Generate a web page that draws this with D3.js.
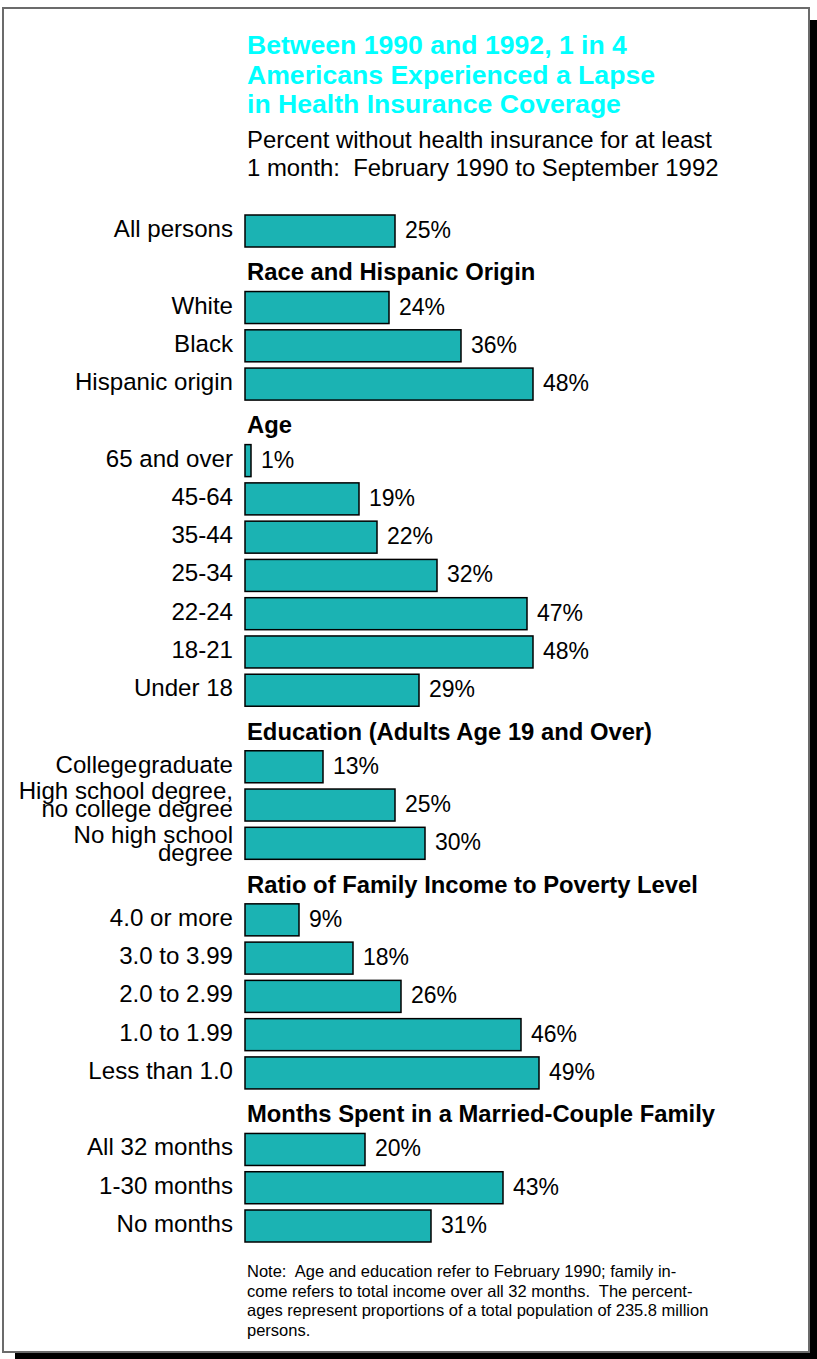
<!DOCTYPE html>
<html>
<head>
<meta charset="utf-8">
<script src="https://cdn.jsdelivr.net/npm/d3@7"></script>
<style>
  body { margin: 0; background: #fff; }
  svg { display: block; font-family: "Liberation Sans", Arial, Helvetica, sans-serif; }
  text { white-space: pre; }
</style>
</head>
<body>
<svg id="chart"></svg>
<script>
// DATA
const titleLines = ["Between 1990 and 1992, 1 in 4", "Americans Experienced a Lapse", "in Health Insurance Coverage"];
const subtitleLines = ["Percent without health insurance for at least", "1 month:  February 1990 to September 1992"];
const headers = [
  "Race and Hispanic Origin",
  "Age",
  "Education (Adults Age 19 and Over)",
  "Ratio of Family Income to Poverty Level",
  "Months Spent in a Married-Couple Family"
];
const categories = [
  "All persons",
  "White", "Black", "Hispanic origin",
  "65 and over", "45-64", "35-44", "25-34", "22-24", "18-21", "Under 18",
  "College graduate", "High school degree,\nno college degree", "No high school\ndegree",
  "4.0 or more", "3.0 to 3.99", "2.0 to 2.99", "1.0 to 1.99", "Less than 1.0",
  "All 32 months", "1-30 months", "No months"
];
const groupIndex = [-1, 0, 0, 0, 1, 1, 1, 1, 1, 1, 1, 2, 2, 2, 3, 3, 3, 3, 3, 4, 4, 4];
const values = [25, 24, 36, 48, 1, 19, 22, 32, 47, 48, 29, 13, 25, 30, 9, 18, 26, 46, 49, 20, 43, 31];
const noteLines = [
  "Note:  Age and education refer to February 1990; family in-",
  "come refers to total income over all 32 months.  The percent-",
  "ages represent proportions of a total population of 235.8 million",
  "persons."
];

// build the row sequence: headers take a slot of their own
const rows = [];
let lastGroup = -1;
categories.forEach((c, i) => {
  if (groupIndex[i] !== lastGroup && groupIndex[i] >= 0) {
    rows.push({ type: "header", key: "h" + groupIndex[i], text: headers[groupIndex[i]] });
    lastGroup = groupIndex[i];
  }
  rows.push({ type: "bar", key: "b" + i, label: c, value: values[i] });
});

const width = 817, height = 1359;
const svg = d3.select("#chart").attr("width", width).attr("height", height);

// frame with drop shadow
svg.append("rect").attr("x", 15).attr("y", 20).attr("width", width - 15).attr("height", height - 20).attr("fill", "#000");
svg.append("rect").attr("x", 3).attr("y", 8).attr("width", 806).attr("height", 1344)
  .attr("fill", "#fff").attr("stroke", "#6b6b6b").attr("stroke-width", 2);

// title
svg.append("g").selectAll("text").data(titleLines).join("text")
  .attr("x", 247).attr("y", (d, i) => 54 + i * 29.5)
  .attr("fill", "#00ffff").attr("font-weight", "bold").attr("font-size", 26.6)
  .text(d => d);

svg.append("g").selectAll("text").data(subtitleLines).join("text")
  .attr("x", 247).attr("y", (d, i) => 148 + i * 27.5)
  .attr("fill", "#000").attr("font-size", 23.9)
  .text(d => d);

// scales
const x0 = 245;
const xScale = d3.scaleLinear().domain([0, 50]).range([0, 300]);
const yScale = d3.scalePoint().domain(rows.map(r => r.key)).range([231, 1226]);
const barH = 32;

// headers
svg.append("g").selectAll("text").data(rows.filter(r => r.type === "header")).join("text")
  .attr("x", 247).attr("y", r => yScale(r.key) + 11)
  .attr("font-weight", "bold").attr("font-size", 23.8)
  .text(r => r.text);

const bars = rows.filter(r => r.type === "bar");

svg.append("g").selectAll("rect").data(bars).join("rect")
  .attr("x", x0).attr("y", r => yScale(r.key) - barH / 2)
  .attr("width", r => xScale(r.value)).attr("height", barH)
  .attr("fill", "#1bb3b3").attr("stroke", "#000").attr("stroke-width", 1.5);

// value labels
svg.append("g").selectAll("text").data(bars).join("text")
  .attr("x", r => x0 + xScale(r.value) + 10).attr("y", r => yScale(r.key) + 7)
  .attr("font-size", 23)
  .text(r => r.value + "%");

// category labels (some on two lines)
const labelShift = { "High school degree,\nno college degree": -12, "No high school\ndegree": -6 };
const lab = svg.append("g").selectAll("text").data(bars).join("text")
  .attr("text-anchor", "end").attr("font-size", 24.1)
  .attr("word-spacing", r => r.label === "College graduate" ? -6 : null)
  .attr("y", r => yScale(r.key) + 6 + (labelShift[r.label] || 0));
lab.selectAll("tspan").data(r => r.label.split("\n")).join("tspan")
  .attr("x", 233).attr("dy", (d, i) => i === 0 ? 0 : 17.5)
  .text(d => d);

// note
svg.append("g").selectAll("text").data(noteLines).join("text")
  .attr("x", 247).attr("y", (d, i) => 1277 + i * 19.7)
  .attr("font-size", 16.5)
  .text(d => d);
</script>
</body>
</html>
